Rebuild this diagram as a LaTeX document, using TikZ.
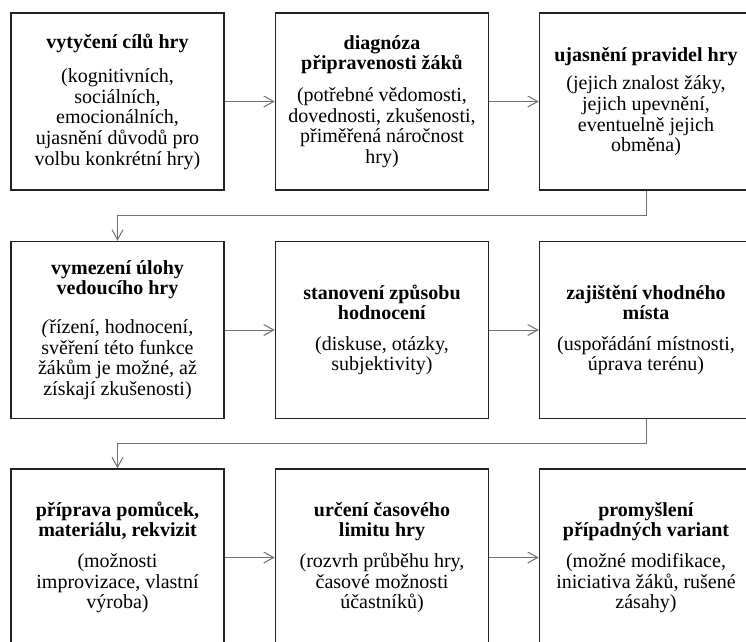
\documentclass[tikz,border=0pt]{standalone}
\usepackage{fontspec}
\setmainfont{Liberation Serif}
\usetikzlibrary{arrows.meta}
\definecolor{boxline}{HTML}{222222}
\definecolor{conn}{HTML}{707070}
\tikzset{
  stepbox/.style={draw=boxline, line width=1.6pt, minimum width=213pt, minimum height=177pt,
    align=center, inner sep=0pt, text=black,
    font=\fontsize{20}{20.6}\selectfont},
  flow/.style={draw=conn, line width=1pt, -{Straight Barb[length=10pt,width=11pt,line width=1pt]}},
}
\begin{document}
\begin{tikzpicture}[x=1pt,y=-1pt]
\clip (0,0) rectangle (746,641);
\useasboundingbox (0,0) rectangle (746,641);
\fill[white] (0,0) rectangle (746,641);
% row 1
\node[stepbox] (b1) at (117.5,101.5) {\textbf{vytyčení cílů hry}\\[14pt]
  (kognitivních,\\ sociálních,\\ emocionálních,\\ ujasnění důvodů pro\\ volbu konkrétní hry)};
\node[stepbox] (b2) at (382,101.5) {\textbf{diagnóza}\\ \textbf{připravenosti žáků}\\[11pt]
  (potřebné vědomosti,\\ dovednosti, zkušenosti,\\ přiměřená náročnost\\ hry)};
\node[stepbox] (b3) at (646,101.5) {\textbf{ujasnění pravidel hry}\\[8pt]
  (jejich znalost žáky,\\ jejich upevnění,\\ eventuelně jejich\\ obměna)};
% row 2
\node[stepbox] (b4) at (117.5,330) {\textbf{vymezení úlohy}\\ \textbf{vedoucího hry}\\[18pt]
  \textit{(}řízení, hodnocení,\\ svěření této funkce\\ žákům je možné, až\\ získají zkušenosti)};
\node[stepbox] (b5) at (382,330) {\textbf{stanovení způsobu}\\ \textbf{hodnocení}\\[10pt]
  (diskuse, otázky,\\ subjektivity)};
\node[stepbox] (b6) at (646,330) {\textbf{zajištění vhodného}\\ \textbf{místa}\\[10pt]
  (uspořádání místnosti,\\ úprava terénu)};
% row 3
\node[stepbox] (b7) at (117.5,557.5) {\textbf{příprava pomůcek,}\\ \textbf{materiálu, rekvizit}\\[10pt]
  (možnosti\\ improvizace, vlastní\\ výroba)};
\node[stepbox] (b8) at (382,557.5) {\textbf{určení časového}\\ \textbf{limitu hry}\\[10pt]
  (rozvrh průběhu hry,\\ časové možnosti\\ účastníků)};
\node[stepbox] (b9) at (646,557.5) {\textbf{promyšlení}\\ \textbf{případných variant}\\[10pt]
  (možné modifikace,\\ iniciativa žáků, rušené\\ zásahy)};
% connectors
\draw[flow] (b1.east) -- (b2.west);
\draw[flow] (b2.east) -- (b3.west);
\draw[flow] (b3.south) -- ++(0,25) -| (b4.north);
\draw[flow] (b4.east) -- (b5.west);
\draw[flow] (b5.east) -- (b6.west);
\draw[flow] (b6.south) -- ++(0,24) -| (b7.north);
\draw[flow] (b7.east) -- (b8.west);
\draw[flow] (b8.east) -- (b9.west);
\end{tikzpicture}
\end{document}
